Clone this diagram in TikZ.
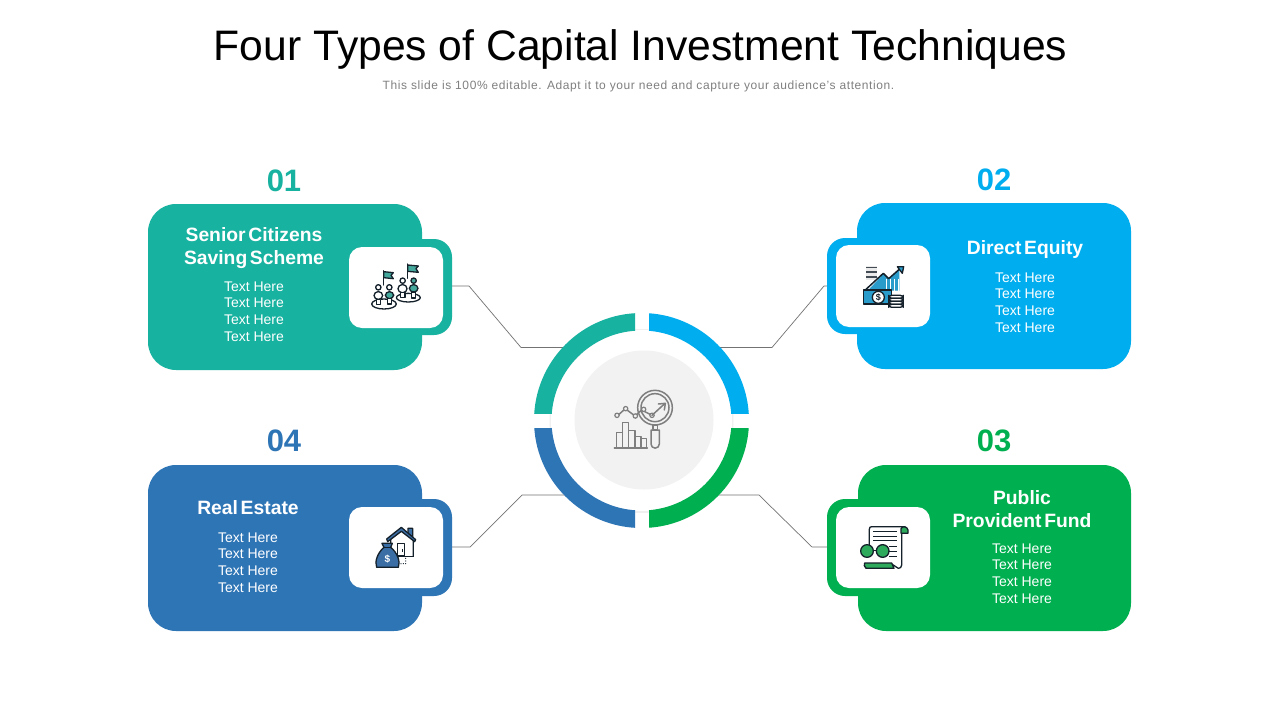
\documentclass[tikz,border=0pt]{standalone}
\usepackage{fontspec}
\setmainfont{Liberation Sans}
\newfontfamily\headfont[WordSpace=0.5]{Liberation Sans}
\definecolor{cteal}{HTML}{17B2A0}
\definecolor{cblue}{HTML}{00AEEF}
\definecolor{cgreen}{HTML}{00B050}
\definecolor{cdark}{HTML}{2E75B6}
\definecolor{cgrey}{HTML}{F2F2F2}
\definecolor{cicon}{HTML}{7F7F7F}
\definecolor{cink}{HTML}{14202A}
\definecolor{iteal}{HTML}{45A89C}
\definecolor{iblue}{HTML}{2A9CCB}
\definecolor{igreen}{HTML}{2DAA5C}
\definecolor{idark}{HTML}{3A6EA5}
\tikzset{
  cardbox/.style={rounded corners=28pt,inner sep=0pt,outer sep=0pt,anchor=north west},
  tabbox/.style={rounded corners=18pt,inner sep=0pt,outer sep=0pt,anchor=north west},
  whitebox/.style={fill=white,rounded corners=13pt,inner sep=0pt,outer sep=0pt,anchor=north west,minimum width=94pt},
  numlabel/.style={font=\bfseries\fontsize{31}{31}\selectfont,anchor=base},
  headlabel/.style={font=\headfont\bfseries\fontsize{19.3}{23}\selectfont,text=white,anchor=base,inner sep=0pt},
  bodylabel/.style={font=\fontsize{14}{14}\selectfont,text=white,anchor=base,inner sep=0pt},
  linkline/.style={draw=black!55,line width=0.7pt},
  ink/.style={draw=cink,line width=1.3pt,line join=round,line cap=round},
  midline/.style={draw=cicon,line width=1.5pt,line join=round,line cap=round},
}
\begin{document}
\begin{tikzpicture}[x=1pt,y=-1pt]
\useasboundingbox (0,0) rectangle (1280,720);
\fill[white] (0,0) rectangle (1280,720);

% titles
\node[anchor=base,inner sep=0pt] (title) at (640.5,60.5) {\fontsize{42.65}{44}\selectfont Four Types of Capital Investment Techniques};
\node[anchor=base,inner sep=0pt,text=black!50] (subtitle) at (638.5,89) {\fontsize{12}{12}\selectfont\addfontfeature{LetterSpace=5}This slide is 100\% editable. Adapt it to your need and capture your audience's attention.};

% link anchor points
\coordinate (a1) at (445,286); \coordinate (a1b) at (469,286); \coordinate (a1c) at (521,347.5); \coordinate (hub1) at (570,347.5);
\coordinate (a2) at (835,286); \coordinate (a2b) at (824,286); \coordinate (a2c) at (772,347.5); \coordinate (hub2) at (715,347.5);
\coordinate (a3) at (835,547); \coordinate (a3b) at (812,547); \coordinate (a3c) at (759,495); \coordinate (hub3) at (715,495);
\coordinate (a4) at (445,547); \coordinate (a4b) at (470,547); \coordinate (a4c) at (522,495); \coordinate (hub4) at (570,495);
\draw[linkline] (a1) -- (a1b) -- (a1c) -- (hub1);
\draw[linkline] (a2) -- (a2b) -- (a2c) -- (hub2);
\draw[linkline] (a3) -- (a3b) -- (a3c) -- (hub3);
\draw[linkline] (a4) -- (a4b) -- (a4c) -- (hub4);

% cards
\node[tabbox,fill=cteal,minimum width=70pt,minimum height=96pt] (tab1) at (382,239) {};
\node[cardbox,fill=cteal,minimum width=274pt,minimum height=166pt] (card1) at (148,204) {};
\node[whitebox,minimum height=81pt] (white1) at (349,247) {};
\node[tabbox,fill=cblue,minimum width=70pt,minimum height=96pt] (tab2) at (827,238) {};
\node[cardbox,fill=cblue,minimum width=274pt,minimum height=166pt] (card2) at (857,203) {};
\node[whitebox,minimum height=82pt] (white2) at (836,245) {};
\node[tabbox,fill=cgreen,minimum width=70pt,minimum height=97pt] (tab3) at (827,499) {};
\node[cardbox,fill=cgreen,minimum width=273pt,minimum height=166pt] (card3) at (858,465) {};
\node[whitebox,minimum height=81pt] (white3) at (836,507) {};
\node[tabbox,fill=cdark,minimum width=70pt,minimum height=97pt] (tab4) at (382,499) {};
\node[cardbox,fill=cdark,minimum width=274pt,minimum height=166pt] (card4) at (148,465) {};
\node[whitebox,minimum height=81pt] (white4) at (349,507) {};

% numbers
\node[numlabel,text=cteal] (n1) at (284,191) {01};
\node[numlabel,text=cblue] (n2) at (994,190) {02};
\node[numlabel,text=cgreen] (n3) at (994,451) {03};
\node[numlabel,text=cdark] (n4) at (284,451) {04};

% card 1 text
\node[headlabel] (h1a) at (254,241) {Senior Citizens};
\node[headlabel] (h1b) at (254,264) {Saving Scheme};
\node[bodylabel] (t1a) at (254,291) {Text Here};
\node[bodylabel] (t1b) at (254,307) {Text Here};
\node[bodylabel] (t1c) at (254,324) {Text Here};
\node[bodylabel] (t1d) at (254,341) {Text Here};
% card 2 text
\node[headlabel] (h2a) at (1025,254) {Direct Equity};
\node[bodylabel] (t2a) at (1025,282) {Text Here};
\node[bodylabel] (t2b) at (1025,298) {Text Here};
\node[bodylabel] (t2c) at (1025,315) {Text Here};
\node[bodylabel] (t2d) at (1025,332) {Text Here};
% card 3 text
\node[headlabel] (h3a) at (1022,504) {Public};
\node[headlabel] (h3b) at (1022,527) {Provident Fund};
\node[bodylabel] (t3a) at (1022,553) {Text Here};
\node[bodylabel] (t3b) at (1022,569) {Text Here};
\node[bodylabel] (t3c) at (1022,586) {Text Here};
\node[bodylabel] (t3d) at (1022,603) {Text Here};
% card 4 text
\node[headlabel] (h4a) at (248,514) {Real Estate};
\node[bodylabel] (t4a) at (248,542) {Text Here};
\node[bodylabel] (t4b) at (248,558) {Text Here};
\node[bodylabel] (t4c) at (248,575) {Text Here};
\node[bodylabel] (t4d) at (248,592) {Text Here};

% hub
\fill[black!6] (641.5,421) circle (92);
\fill[white] (641.5,420.5) circle (90.5);
\begin{scope}
\clip (500,300) rectangle (635,413.7);
\fill[cteal,even odd rule] (641.5,420.5) circle (107.5) (641.5,420.5) circle (90);
\end{scope}
\begin{scope}
\clip (649,300) rectangle (780,413.7);
\fill[cblue,even odd rule] (641.5,420.5) circle (107.5) (641.5,420.5) circle (90);
\end{scope}
\begin{scope}
\clip (649,428) rectangle (780,540);
\fill[cgreen,even odd rule] (641.5,420.5) circle (107.5) (641.5,420.5) circle (90);
\end{scope}
\begin{scope}
\clip (500,428) rectangle (635,540);
\fill[cdark,even odd rule] (641.5,420.5) circle (107.5) (641.5,420.5) circle (90);
\end{scope}
\fill[cgrey,draw=black!5,line width=1pt] (644,420) circle (69);

% central icon (coordinates of a 3x view)
\begin{scope}[shift={(520,300)},scale=1/3]
\draw[midline] (283,444) -- (382,444);
\draw[midline] (290,444) -- (290,398) -- (308,398) -- (308,444);
\draw[midline] (308,444) -- (308,367) -- (326,367) -- (326,444);
\draw[midline] (326,444) -- (326,392) -- (345,392) -- (345,444);
\draw[midline] (345,444) -- (345,410) -- (363,410) -- (363,444);
\draw[midline] (363,444) -- (363,415) -- (380,415) -- (380,444);
\draw[midline] (296,344) -- (316,326) -- (345,348) -- (365,330) -- (396,346);
\foreach \p in {(291,346),(317,326),(346,348),(371,328),(396,346)} \fill[cgrey,draw=cicon,line width=1.2pt] \p circle (6.5);
\draw[midline] (405,323) circle (52);
\draw[midline] (405,323) circle (42);
\draw[midline] (396,346) -- (434,311);
\draw[midline] (415,312) -- (436,310) -- (433,330);
\draw[midline] (399,375) rectangle (412,389);
\draw[midline] (393,390) -- (418,390) -- (418,432) arc (0:180:12.5) -- cycle;
\end{scope}

% icon 1
\begin{scope}[shift={(340,230)},scale=1/3]
\draw[ink] (132,222) ellipse (37 and 15);
\draw[ink] (205,203) ellipse (36 and 13);
\draw[ink] (131,165) -- (131,122);
\draw[ink,fill=iteal] (131,125) -- (160,128) -- (153,136) -- (160,146) -- (131,143) -- cycle;
\draw[ink] (203,145) -- (203,102);
\draw[ink,fill=iteal] (203,105) -- (235,108) -- (228,116) -- (235,127) -- (203,124) -- cycle;
\draw[ink,fill=white] (115,172) circle (8);
\draw[ink,fill=white,rounded corners=4pt] (102,185) rectangle (128,208);
\draw[ink,fill=white] (109,208) rectangle (122,223);
\draw[ink,fill=white] (148,172) circle (8);
\draw[ink,fill=iteal,rounded corners=4pt] (136,185) rectangle (161,206);
\draw[ink,fill=white] (143,206) rectangle (154,222);
\draw[ink,fill=white] (188,152) circle (8);
\draw[ink,fill=white,rounded corners=4pt] (174,164) rectangle (201,188);
\draw[ink,fill=white] (181,188) rectangle (195,203);
\draw[ink,fill=iteal] (221,152) circle (8);
\draw[ink,fill=iteal,rounded corners=4pt] (208,164) rectangle (234,186);
\draw[ink,fill=white] (215,186) rectangle (227,204);
\end{scope}

% icon 2
\begin{scope}[shift={(820,230)},scale=1/3]
\fill[black!8] (137,108) rectangle (172,150);
\foreach \y in {110,124,138} \fill[cink!80] (138,\y) rectangle (172,\y+5);
\fill[iblue] (145,180) -- (190,132) -- (206,148) -- (238,118) -- (238,182) -- cycle;
\foreach \x in {198,210,222,234} \draw[white,line width=1pt] (\x,146) -- (\x,182);
\draw[ink,line width=1.5pt] (138,178) -- (190,130) -- (206,146) -- (240,116);
\draw[ink,fill=iblue] (232,110) -- (251,110) -- (247,130) -- cycle;
\draw[ink,fill=iblue] (130,180) rectangle (215,222);
\draw[ink,fill=white] (175,202) circle (18);
\node[inner sep=0pt,text=cink] (dollar2) at (175,202) {\bfseries\fontsize{9}{9}\selectfont\$};
\foreach \y in {196,205,214,223} \draw[ink,fill=white,rounded corners=3pt] (206,\y) rectangle (250,\y+9);
\end{scope}

% icon 3 (bag and house)
\begin{scope}[shift={(340,490)},scale=1/3]
\draw[ink,fill=white] (152,145) -- (152,200) -- (220,200) -- (220,145) -- (184,118) -- cycle;
\draw[ink,fill=idark] (204,130) -- (204,115) -- (218,115) -- (218,142) -- cycle;
\draw[ink,fill=idark] (140,147) -- (184,112) -- (227,149) -- (224,155) -- (184,124) -- (143,155) -- cycle;
\draw[ink,fill=white] (172,160) rectangle (194,198);
\fill[cink] (187,176) rectangle (190,186);
\fill[white] (176,202) rectangle (224,232);
\draw[ink,fill=idark] (126,160) -- (157,160) -- (152,172) .. controls (172,188) and (182,215) .. (175,232) -- (110,232) .. controls (103,215) and (113,188) .. (132,172) -- cycle;
\draw[cink,line width=1pt] (132,172) -- (152,172);
\node[inner sep=0pt,text=white] (dollar3) at (142,206) {\bfseries\fontsize{10}{10}\selectfont\$};
\foreach \p in {(183,221),(190,221),(197,221),(197,213),(197,205)} \fill[cink] \p circle (1.8);
\end{scope}

% icon 4 (document and glasses)
\begin{scope}[shift={(820,490)},scale=1/3]
\draw[ink,fill=white] (148,165) -- (148,118) .. controls (148,112) and (150,110) .. (156,110) -- (255,110) -- (245,118) -- (245,225) .. controls (245,232) and (240,235) .. (235,235) -- (215,222) -- (148,222);
\draw[ink,fill=igreen] (243,130) -- (243,116) .. controls (245,108) and (262,108) .. (264,120) -- (264,130) -- cycle;
\foreach \y in {124,138,152} \draw[draw=cink,line width=0.9pt] (160,\y) -- (230,\y);
\foreach \y in {168,184,198} \draw[draw=cink,line width=0.9pt] (208,\y) -- (230,\y);
\draw[ink,fill=igreen] (134,219) -- (215,219) -- (222,235) -- (138,235) .. controls (132,232) and (132,222) .. (134,219) -- cycle;
\draw[ink,fill=igreen] (141,183) circle (19);
\draw[ink,fill=igreen] (188,183) circle (19);
\draw[ink] (160,181) -- (169,181);
\end{scope}
\end{tikzpicture}
\end{document}
